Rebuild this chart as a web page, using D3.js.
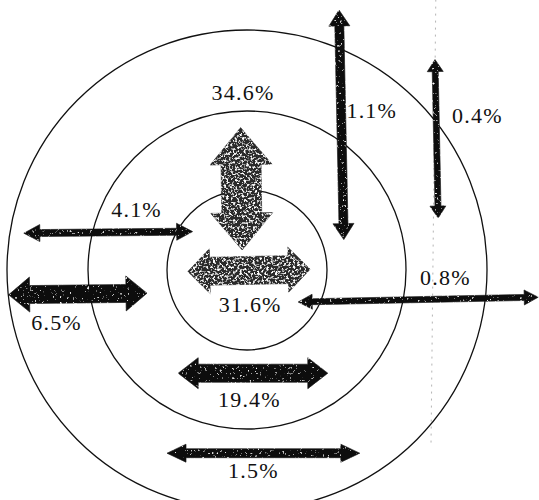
<!DOCTYPE html>
<html>
<head>
<meta charset="utf-8">
<script src="https://cdn.jsdelivr.net/npm/d3@7"></script>
<style>
  body { margin: 0; background: #fff; }
  svg { display: block; }
</style>
</head>
<body>
<div id="graphRender"></div>
<script>
// shares shown on each arrow
var labels = ["34.6%", "31.6%", "19.4%", "6.5%", "4.1%", "1.5%", "1.1%", "0.4%", "0.8%"];
var shares = [34.6, 31.6, 19.4, 6.5, 4.1, 1.5, 1.1, 0.4, 0.8];
// the three rings
var rings = [1, 2, 3];

// layout of the arrows, in ring units measured from the centre (kept apart from the data)
var arrowLayout = [
    {x1: -0.08, y1: -1.78, x2: -0.06, y2: -0.25, w: 40, hw: 62, hl: 37, tone: "grey", lx: -0.05, ly: -2.12},
    {x1: -0.74, y1: 0.02,  x2: 0.79,  y2: -0.01, w: 28, hw: 45, hl: 22, tone: "grey", lx: 0.04,  ly: 0.53},
    {x1: -0.86, y1: 1.29,  x2: 1.01,  y2: 1.29,  w: 18, hw: 31, hl: 20, tone: "dark", lx: 0.03,  ly: 1.71},
    {x1: -2.98, y1: 0.31,  x2: -1.25, y2: 0.29,  w: 18, hw: 35, hl: 21, tone: "dark", lx: -2.38, ly: 0.75},
    {x1: -2.79, y1: -0.46, x2: -0.68, y2: -0.48, w: 7,  hw: 17, hl: 16, tone: "dark", lx: -1.38, ly: -0.66},
    {x1: -1.0,  y1: 2.29,  x2: 1.41,  y2: 2.29,  w: 9,  hw: 18, hl: 19, tone: "dark", lx: 0.08,  ly: 2.6},
    {x1: 1.15,  y1: -3.25, x2: 1.21,  y2: -0.38, w: 9,  hw: 21, hl: 16, tone: "dark", lx: 1.56,  ly: -1.9},
    {x1: 2.35,  y1: -2.63, x2: 2.39,  y2: -0.65, w: 6,  hw: 16, hl: 12, tone: "dark", lx: 2.88,  ly: -1.84},
    {x1: 0.64,  y1: 0.4,   x2: 3.64,  y2: 0.34,  w: 6,  hw: 15, hl: 14, tone: "dark", lx: 2.48,  ly: 0.19}
];

var width = 539, height = 500;
var cx = 247, cy = 270;

var svg = d3.select("#graphRender")
    .append("svg")
        .attr("width", width)
        .attr("height", height);

// ring units -> pixels
var x = d3.scaleLinear().domain([0, 3]).range([cx, cx + 240]);
var y = d3.scaleLinear().domain([0, 3]).range([cy, cy + 240]);
var r = d3.scaleLinear().domain([0, 1, 2, 3]).range([0, 80, 159, 240]);

// speckled print texture for the arrows
var defs = svg.append("defs");
function grain(id, freq, slope, offset) {
    var f = defs.append("filter").attr("id", id)
        .attr("x", "-5%").attr("y", "-5%").attr("width", "110%").attr("height", "110%");
    f.append("feTurbulence")
        .attr("type", "fractalNoise")
        .attr("baseFrequency", freq)
        .attr("numOctaves", 3)
        .attr("seed", 7)
        .attr("result", "noise");
    f.append("feColorMatrix")
        .attr("in", "noise")
        .attr("type", "matrix")
        .attr("values", "0 0 0 0 1  0 0 0 0 1  0 0 0 0 1  " + slope + " 0 0 0 " + offset)
        .attr("result", "spots");
    f.append("feComposite")
        .attr("in", "spots").attr("in2", "SourceGraphic")
        .attr("operator", "in").attr("result", "clipped");
    var m = f.append("feMerge");
    m.append("feMergeNode").attr("in", "SourceGraphic");
    m.append("feMergeNode").attr("in", "clipped");
}
grain("grainGrey", 0.45, 5, -2.55);
grain("grainDark", 0.4, 5, -3.3);

// faint dotted guide line
svg.append("line")
    .attr("x1", x(2.36)).attr("y1", y(-3.38))
    .attr("x2", x(2.3)).attr("y2", y(2.19))
    .attr("stroke", "#b5b5b5")
    .attr("stroke-width", 1)
    .attr("stroke-dasharray", "2,5");

// concentric circles
svg.selectAll("circle.ring")
    .data(rings)
    .enter()
    .append("circle")
        .attr("class", "ring")
        .attr("cx", x(0))
        .attr("cy", y(0))
        .attr("r", function(d) { return r(d); })
        .attr("fill", "none")
        .attr("stroke", "#111")
        .attr("stroke-width", 1.3);

// double headed arrow outline from two tips
function arrowPoints(a) {
    var p1 = [x(a.x1), y(a.y1)], p2 = [x(a.x2), y(a.y2)];
    var dx = p2[0] - p1[0], dy = p2[1] - p1[1];
    var len = Math.sqrt(dx * dx + dy * dy);
    var ux = dx / len, uy = dy / len, nx = -uy, ny = ux;
    function pt(base, along, side) {
        return [base[0] + ux * along + nx * side, base[1] + uy * along + ny * side];
    }
    return [
        p1,
        pt(p1, a.hl, a.hw / 2), pt(p1, a.hl, a.w / 2),
        pt(p2, -a.hl, a.w / 2), pt(p2, -a.hl, a.hw / 2),
        p2,
        pt(p2, -a.hl, -a.hw / 2), pt(p2, -a.hl, -a.w / 2),
        pt(p1, a.hl, -a.w / 2), pt(p1, a.hl, -a.hw / 2)
    ];
}
var line = d3.line().curve(d3.curveLinearClosed);

var arrows = shares.map(function(v, i) {
    return {value: v, label: labels[i], layout: arrowLayout[i]};
});

svg.selectAll("path.arrow")
    .data(arrows)
    .enter()
    .append("path")
        .attr("class", "arrow")
        .attr("d", function(d) { return line(arrowPoints(d.layout)); })
        .attr("fill", function(d) { return d.layout.tone == "grey" ? "#2a2a2a" : "#0d0d0d"; })
        .attr("stroke", function(d) { return d.layout.tone == "grey" ? "#2a2a2a" : "#0d0d0d"; })
        .attr("stroke-width", 0.6)
        .attr("stroke-linejoin", "miter")
        .attr("filter", function(d) { return d.layout.tone == "grey" ? "url(#grainGrey)" : "url(#grainDark)"; });

// percentage labels
svg.selectAll("text.share")
    .data(arrows)
    .enter()
    .append("text")
        .attr("class", "share")
        .attr("x", function(d) { return x(d.layout.lx); })
        .attr("y", function(d) { return y(d.layout.ly); })
        .attr("text-anchor", "middle")
        .style("font-family", "\"Liberation Serif\"")
        .attr("font-size", 22)
        .attr("letter-spacing", 1.2)
        .attr("fill", "#111")
        .text(function(d) { return d.label; });
</script>
</body>
</html>
